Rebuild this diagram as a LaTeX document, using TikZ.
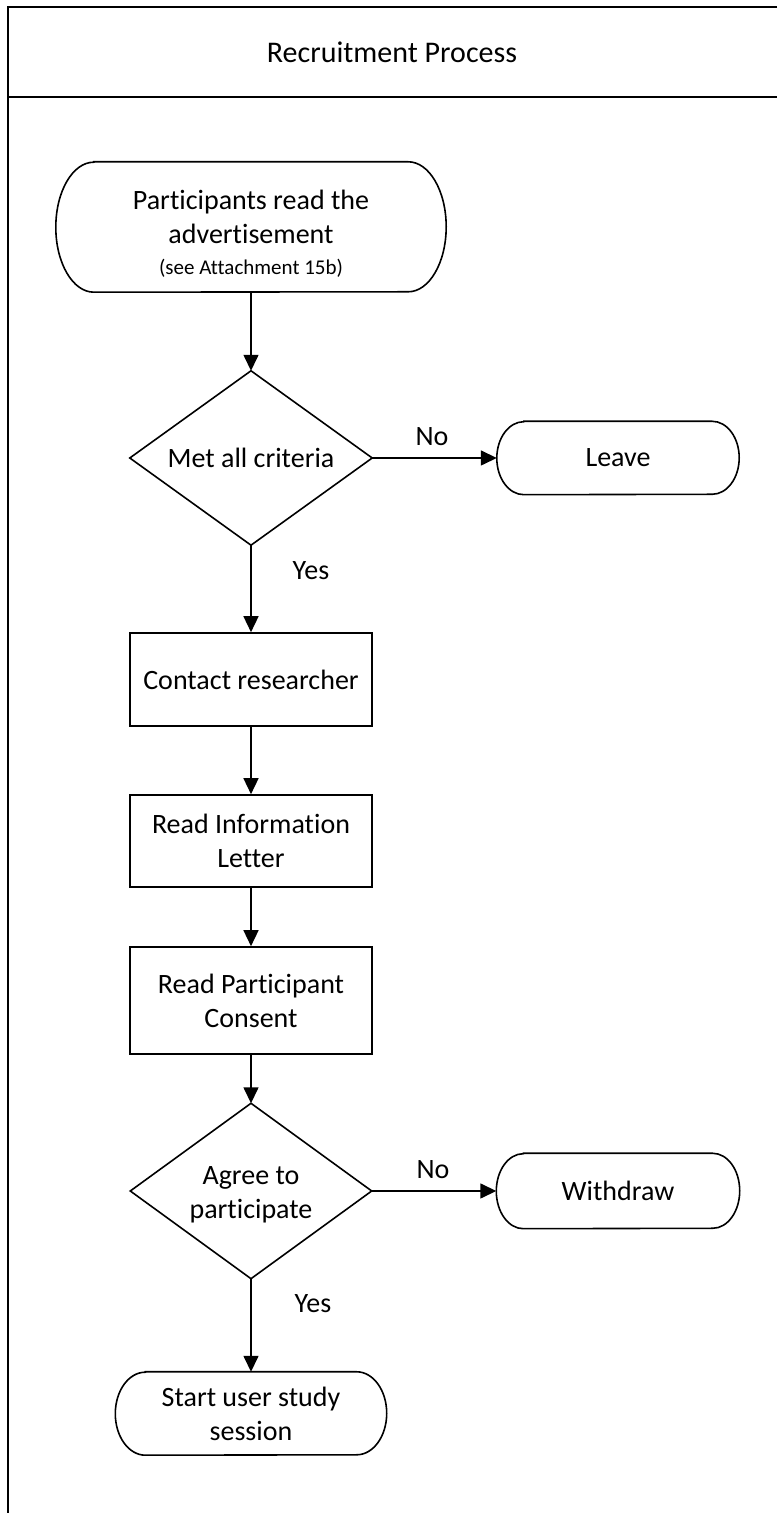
\documentclass[tikz,border=0pt]{standalone}
\usepackage{fontspec}
\setmainfont{Carlito}[Ligatures={NoCommon}]
\usetikzlibrary{arrows.meta}

% outline of a terminator: flat top and bottom, elliptical ends
% #1 node name, #2 horizontal end radius, #3 half height
\newcommand\terminatoroutline[3]{%
  \draw[outline] ([xshift=#2]#1.north west) -- ([xshift=-#2]#1.north east)
    arc[start angle=90, end angle=-90, x radius=#2, y radius=#3]
    -- ([xshift=#2]#1.south west)
    arc[start angle=270, end angle=90, x radius=#2, y radius=#3] -- cycle;}

% outline of a decision diamond on the anchors of its frame node
\newcommand\decisionoutline[1]{%
  \draw[outline] (#1.north) -- (#1.east) -- (#1.south) -- (#1.west) -- cycle;}

\begin{document}
\begin{tikzpicture}[x=1pt,y=1pt,
  every node/.style={font=\fontsize{28}{34}\selectfont, align=center, inner sep=0pt},
  frameline/.style={line width=1.8pt},
  outline/.style={line width=1.6pt, line join=miter},
  procbox/.style={rectangle, draw, line width=1.6pt, minimum width=242pt},
  hidden/.style={rectangle, draw=none},
  flow/.style={line width=1.5pt, -{Triangle[length=16pt,width=15pt]}}]

\useasboundingbox (0,0) rectangle (777,1513);

% swimlane frame with its header
\draw[frameline] (777,1506) -- (8,1506) -- (8,0);
\draw[frameline] (8,1416) -- (777,1416);
\node[font=\fontsize{30}{36}\selectfont] (title) at (392,1461) {Recruitment Process};

% steps
\node[hidden, minimum width=390pt, minimum height=130pt] (start) at (251,1286)
  {\rule{0pt}{32pt}Participants read the\\advertisement\\[-3pt]{\fontsize{21}{26}\selectfont (see Attachment 15b)}};
\terminatoroutline{start}{38pt}{65pt}

\node[hidden, minimum width=242pt, minimum height=174pt] (crit) at (251,1055) {Met all criteria};
\decisionoutline{crit}

\node[hidden, minimum width=242pt, minimum height=73pt] (leave) at (618,1055) {Leave};
\terminatoroutline{leave}{27pt}{36.5pt}

\node[procbox, minimum height=93pt] (contact) at (251,833.5) {Contact researcher};
\node[procbox, minimum height=92pt] (info) at (251,672) {Read Information\\Letter};
\node[procbox, minimum height=107pt] (consent) at (251,512.5) {Read Participant\\Consent};

\node[hidden, minimum width=241pt, minimum height=175pt] (agree) at (251,322) {\rule{0pt}{26pt}Agree to\\participate};
\decisionoutline{agree}

\node[hidden, minimum width=243pt, minimum height=75pt] (withdraw) at (618,322) {Withdraw};
\terminatoroutline{withdraw}{27pt}{37.5pt}

\node[hidden, minimum width=271pt, minimum height=83pt] (session) at (251,99.5) {Start user study\\session};
\terminatoroutline{session}{30pt}{41.5pt}

% branch labels
\node (no1) at (432,1076) {No};
\node (yes1) at (311,942) {Yes};
\node (no2) at (433,343) {No};
\node (yes2) at (313,209) {Yes};

% connectors
\draw[flow] (start.south) -- (crit.north);
\draw[flow] (crit.east) -- (leave.west);
\draw[flow] (crit.south) -- (contact.north);
\draw[flow] (contact.south) -- (info.north);
\draw[flow] (info.south) -- (consent.north);
\draw[flow] (consent.south) -- (agree.north);
\draw[flow] (agree.east) -- (withdraw.west);
\draw[flow] (agree.south) -- (session.north);
\end{tikzpicture}
\end{document}
